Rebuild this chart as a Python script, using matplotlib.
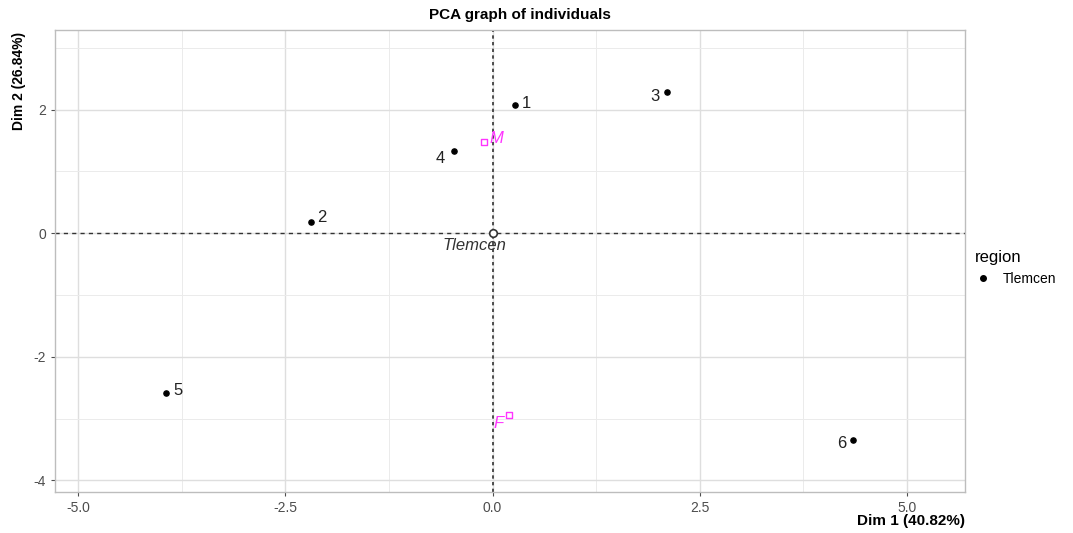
import matplotlib
matplotlib.use("Agg")
import matplotlib.pyplot as plt
from matplotlib.lines import Line2D

plt.rcParams["font.family"] = ["Liberation Sans", "DejaVu Sans"]
plt.rcParams["axes.unicode_minus"] = False

# Data
ind_labels = ["1", "2", "3", "4", "5", "6"]
ind_x = [0.27, -2.19, 2.10, -0.46, -3.94, 4.35]
ind_y = [2.07, 0.18, 2.28, 1.33, -2.59, -3.34]
sup_labels = ["M", "F"]
sup_x = [-0.10, 0.20]
sup_y = [1.47, -2.95]
center_label = "Tlemcen"
center_x = [0.0]
center_y = [0.0]
xticks = [-5.0, -2.5, 0.0, 2.5, 5.0]
yticks = [-4, -2, 0, 2]

fig = plt.figure(figsize=(10.73, 5.33), dpi=100)
ax = fig.add_axes([0.0513, 0.0769, 0.848, 0.8668])
ax.set_xlim(-5.28, 5.70)
ax.set_ylim(-4.19, 3.29)

ax.set_xticks(xticks)
ax.set_xticklabels(["-5.0", "-2.5", "0.0", "2.5", "5.0"])
ax.set_yticks(yticks)
ax.set_yticklabels(["-4", "-2", "0", "2"])
ax.set_xticks([-3.75, -1.25, 1.25, 3.75], minor=True)
ax.set_yticks([-3, -1, 1, 3], minor=True)
ax.grid(which="major", color="#DEDEDE", linewidth=1.0)
ax.grid(which="minor", color="#EBEBEB", linewidth=0.7)
ax.set_axisbelow(True)
for s in ax.spines.values():
    s.set_color("#BDBDBD")
    s.set_linewidth(1.0)
ax.tick_params(which="major", colors="#4D4D4D", labelsize=10, length=3, width=0.8)
ax.tick_params(which="minor", length=0)

ax.axhline(0, color="#333333", linestyle=(0, (3, 3)), linewidth=1.0)
ax.axvline(0, color="#333333", linestyle=(0, (2, 2)), linewidth=1.2)

ax.scatter(ind_x, ind_y, s=14, color="black", zorder=3)
offsets = {"1": (5, 1, "left", "center"), "2": (4, 3, "left", "center"),
           "3": (-5, -3, "right", "center"), "4": (-7, -5, "right", "center"),
           "5": (5, 2, "left", "center"), "6": (-5, -3, "right", "center")}
for lab, x, y in zip(ind_labels, ind_x, ind_y):
    dx, dy, ha, va = offsets[lab]
    ax.annotate(lab, (x, y), xytext=(dx, dy), textcoords="offset points",
                ha=ha, va=va, fontsize=12, color="#222222")

ax.scatter(sup_x, sup_y, s=22, marker="s", facecolors="white",
           edgecolors="#FF33FF", linewidths=1.0, zorder=3)
ax.annotate(sup_labels[0], (sup_x[0], sup_y[0]), xytext=(4, 3),
            textcoords="offset points", ha="left", va="center",
            fontsize=12, style="italic", color="#FF33FF")
ax.annotate(sup_labels[1], (sup_x[1], sup_y[1]), xytext=(-4, -6),
            textcoords="offset points", ha="right", va="center",
            fontsize=12, style="italic", color="#FF33FF")

ax.scatter(center_x, center_y, s=30, marker="o", facecolors="white",
           edgecolors="#333333", linewidths=1.2, zorder=4)
ax.annotate(center_label, (center_x[0], center_y[0]), xytext=(-13, -9),
            textcoords="offset points", ha="center", va="center",
            fontsize=12, style="italic", color="#333333")

fig.text(0.485, 0.972, "PCA graph of individuals", ha="center", va="center",
         fontsize=11, fontweight="bold")
fig.text(0.8993, 0.022, "Dim 1 (40.82%)", ha="right", va="center",
         fontsize=11, fontweight="bold")
fig.text(0.018, 0.94, "Dim 2 (26.84%)", ha="center", va="top",
         rotation=90, fontsize=10, fontweight="bold")

handles = [Line2D([0], [0], marker="o", color="none", markerfacecolor="black",
                  markeredgecolor="black", markersize=4, label="Tlemcen")]
leg = fig.legend(handles=handles, title="region", loc="upper left",
                 bbox_to_anchor=(0.897, 0.555), frameon=False, fontsize=10,
                 title_fontsize=12, handlelength=1.2, handletextpad=0.8)
leg._legend_box.align = "left"

fig.savefig("out.png", dpi=100)
